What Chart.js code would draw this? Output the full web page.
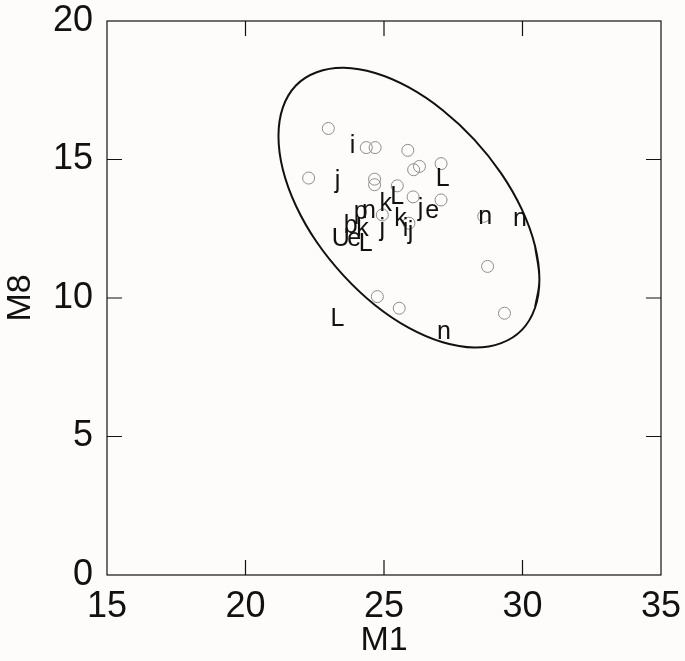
<!DOCTYPE html>
<html>
<head>
<meta charset="utf-8">
<script src="https://cdn.jsdelivr.net/npm/chart.js@4"></script>
<style>
  html, body { margin: 0; padding: 0; background: #fefcfa; }
  #wrap { width: 685px; height: 661px; }
</style>
</head>
<body>
<div id="wrap"><canvas id="myChart" width="685" height="661"></canvas></div>
<script>
'use strict';

// open grey circles
const circleX = [22.99, 24.36, 24.68, 25.86, 26.07, 26.28, 27.06, 22.28, 24.66, 24.66, 25.48, 26.05, 27.06, 28.74, 29.35, 24.76, 25.55, 24.94, 28.6, 25.9];
const circleY = [16.12, 15.43, 15.43, 15.33, 14.63, 14.75, 14.85, 14.33, 14.29, 14.09, 14.05, 13.65, 13.54, 11.14, 9.45, 10.05, 9.63, 13.0, 12.95, 12.7];

// letter markers
const letterText = ['i', 'j', 'L', 'n', 'k', 'L', 'j', 'e', 'p', 'b', 'k', 'k', 'i', 'j', 'j', 'U', 'e', 'L', 'n', 'n', 'L', 'n'];
const letterX = [23.86, 23.32, 27.12, 24.46, 25.06, 25.48, 26.32, 26.74, 24.16, 23.80, 24.22, 25.60, 25.78, 25.96, 24.94, 23.44, 23.92, 24.34, 28.65, 29.91, 23.32, 27.16];
const letterY = [15.50, 14.23, 14.30, 13.15, 13.39, 13.63, 13.21, 13.15, 13.09, 12.61, 12.49, 12.85, 12.49, 12.37, 12.49, 12.13, 12.13, 11.95, 12.91, 12.85, 9.25, 8.77];

// ellipse outline
const ellipseX = [30.61, 30.45, 29.98, 29.23, 28.26, 27.12, 25.90, 24.68, 23.55, 22.57, 21.82, 21.35, 21.19, 21.35, 21.82, 22.57, 23.55, 24.68, 25.90, 27.12, 28.26, 29.23, 29.98, 30.45];
const ellipseY = [10.67, 11.89, 13.19, 14.50, 15.72, 16.78, 17.60, 18.12, 18.31, 18.15, 17.67, 16.88, 15.85, 14.63, 13.33, 12.02, 10.80, 9.74, 8.92, 8.40, 8.21, 8.37, 8.85, 9.64];

const xTicks = [15, 20, 25, 30, 35];
const yTicks = [0, 5, 10, 15, 20];

const FONT = '"Liberation Sans", Arial, Helvetica, sans-serif';

let circlePoints = [];
for (let i = 0; i < circleX.length; i++) {
  circlePoints.push({ x: circleX[i], y: circleY[i] });
}
// closed loop: wrap one point on each side so the spline has no kink at the seam
let n = ellipseX.length;
let ellipsePoints = [{ x: ellipseX[n - 1], y: ellipseY[n - 1] }];
for (let i = 0; i <= n + 1; i++) {
  ellipsePoints.push({ x: ellipseX[i % n], y: ellipseY[i % n] });
}

// frame, inner ticks and the letter markers
const extras = {
  id: 'extras',
  afterDatasetsDraw(chart) {
    const ctx = chart.ctx;
    const a = chart.chartArea;
    const xs = chart.scales.x;
    const ys = chart.scales.y;
    ctx.save();
    ctx.strokeStyle = '#111';
    ctx.lineWidth = 1.2;
    ctx.strokeRect(a.left, a.top, a.right - a.left, a.bottom - a.top);
    const len = 15;
    ctx.beginPath();
    for (let i = 1; i < xTicks.length - 1; i++) {
      let px = xs.getPixelForValue(xTicks[i]);
      ctx.moveTo(px, a.bottom); ctx.lineTo(px, a.bottom - len);
      ctx.moveTo(px, a.top); ctx.lineTo(px, a.top + len);
    }
    for (let i = 1; i < yTicks.length - 1; i++) {
      let py = ys.getPixelForValue(yTicks[i]);
      ctx.moveTo(a.left, py); ctx.lineTo(a.left + len, py);
      ctx.moveTo(a.right, py); ctx.lineTo(a.right - len, py);
    }
    ctx.stroke();

    ctx.fillStyle = '#111';
    ctx.font = '25px ' + FONT;
    ctx.textAlign = 'center';
    ctx.textBaseline = 'middle';
    for (let i = 0; i < letterText.length; i++) {
      ctx.fillText(letterText[i], xs.getPixelForValue(letterX[i]), ys.getPixelForValue(letterY[i]));
    }
    ctx.restore();
  }
};

let ctx = document.getElementById('myChart').getContext('2d');
let myChart = new Chart(ctx, {
  type: 'scatter',
  data: {
    datasets: [{
      label: 'points',
      data: circlePoints,
      pointStyle: 'circle',
      pointRadius: 6,
      borderColor: '#8c8c8c',
      backgroundColor: 'rgba(0,0,0,0)',
      borderWidth: 1
    }, {
      label: 'ellipse',
      data: ellipsePoints,
      showLine: true,
      pointRadius: 0,
      borderColor: '#111',
      borderWidth: 2,
      tension: 0.4
    }]
  },
  options: {
    responsive: false,
    animation: false,
    layout: { padding: { left: 0, right: 24, top: 21, bottom: 0 } },
    plugins: { legend: { display: false }, tooltip: { enabled: false } },
    scales: {
      x: {
        type: 'linear',
        min: 15, max: 35,
        afterBuildTicks: (s) => { s.ticks = xTicks.map(v => ({ value: v })); },
        afterFit: (s) => { s.height = 86; },
        grid: { display: false },
        border: { display: false },
        ticks: { color: '#111', font: { family: FONT, size: 36 }, padding: 2, maxRotation: 0 },
        title: { display: true, text: 'M1', color: '#111', font: { family: FONT, size: 34 }, padding: { top: -10, bottom: 0 } }
      },
      y: {
        type: 'linear',
        min: 0, max: 20,
        afterBuildTicks: (s) => { s.ticks = yTicks.map(v => ({ value: v })); },
        afterFit: (s) => { s.width = 107; s.paddingTop = 0; s.paddingBottom = 0; },
        grid: { display: false },
        border: { display: false },
        ticks: { color: '#111', font: { family: FONT, size: 36 }, padding: 6 },
        title: { display: true, text: 'M8', color: '#111', font: { family: FONT, size: 34 }, padding: { top: 0, bottom: 2 } }
      }
    }
  },
  plugins: [extras]
});
</script>
</body>
</html>
